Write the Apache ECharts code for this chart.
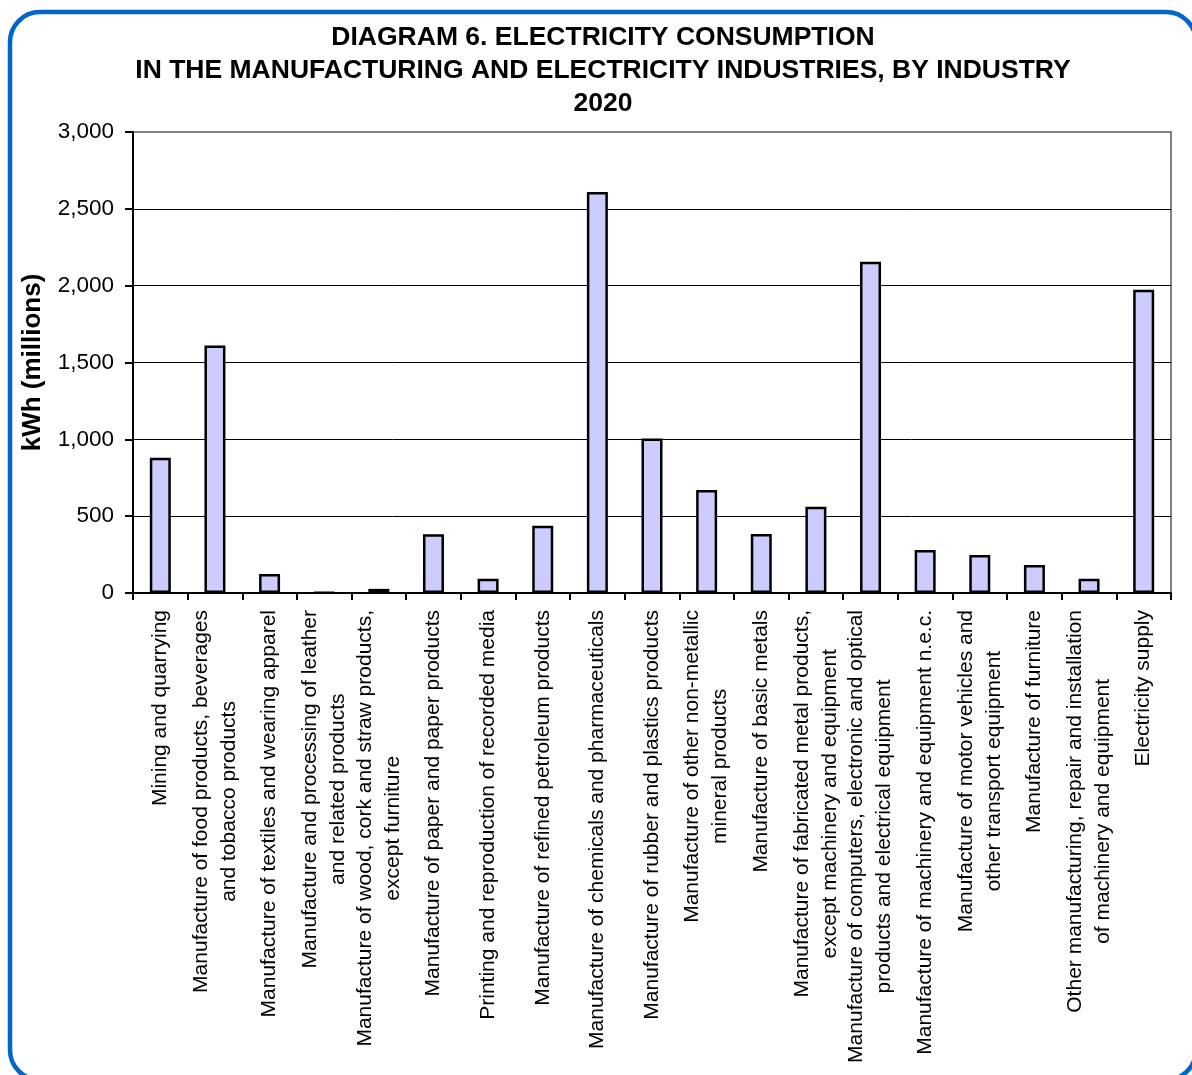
<!DOCTYPE html>
<html>
<head>
<meta charset="utf-8">
<title>Electricity consumption by industry, 2020</title>
<script src="https://cdn.jsdelivr.net/npm/echarts@6/dist/echarts.min.js"></script>
<style>
  html, body { margin: 0; padding: 0; background: #ffffff; }
  #chart { width: 1192px; height: 1075px; }
</style>
</head>
<body>
<div id="chart"></div>
<script>
// Industry categories (line breaks mark where the axis label wraps)
const industries = [
  'Mining and quarrying',
  'Manufacture of food products, beverages\nand tobacco products',
  'Manufacture of textiles and wearing apparel',
  'Manufacture and processing of leather\nand related products',
  'Manufacture of wood, cork and straw products,\nexcept furniture',
  'Manufacture of paper and paper products',
  'Printing and reproduction of recorded media',
  'Manufacture of refined petroleum products',
  'Manufacture of chemicals and pharmaceuticals',
  'Manufacture of rubber and plastics products',
  'Manufacture of other non-metallic\nmineral products',
  'Manufacture of basic metals',
  'Manufacture of fabricated metal products,\nexcept machinery and equipment',
  'Manufacture of computers, electronic and optical\nproducts and electrical equipment',
  'Manufacture of machinery and equipment n.e.c.',
  'Manufacture of motor vehicles and\nother transport equipment',
  'Manufacture of furniture',
  'Other manufacturing, repair and installation\nof machinery and equipment',
  'Electricity supply'
];

// Electricity consumption, kWh (millions)
const consumption = [
  880, 1610, 124, 4, 27, 382, 92, 438, 2609, 1005,
  670, 384, 562, 2156, 280, 247, 182, 93, 1973
];

// Value axis range
const yMin = 0;
const yMax = 3000;
const yStep = 500;

const titleText = 'DIAGRAM 6. ELECTRICITY CONSUMPTION\nIN THE MANUFACTURING AND ELECTRICITY INDUSTRIES, BY INDUSTRY\n2020';
const yAxisTitle = 'kWh (millions)';

const FONT = '"Liberation Sans", Arial, Helvetica, sans-serif';

const chart = echarts.init(document.getElementById('chart'), null, { renderer: 'canvas' });

// Top gridline is drawn grey like the frame, the others black
const splitColors = [];
for (let v = yMin; v <= yMax; v += yStep) {
  splitColors.push(v === yMax ? '#808080' : '#000000');
}

chart.setOption({
  backgroundColor: '#ffffff',
  animation: false,
  title: {
    text: titleText,
    left: 598,
    top: 16,
    textAlign: 'center',
    textStyle: {
      fontFamily: FONT,
      fontWeight: 'bold',
      fontSize: 26.5,
      lineHeight: 33,
      color: '#000000'
    }
  },
  graphic: [{
    type: 'rect',
    shape: { x: 10, y: 12, width: 1186, height: 1068, r: 30 },
    style: { fill: 'none', stroke: '#0066CC', lineWidth: 4.5 },
    silent: true,
    z: 100
  }],
  grid: {
    left: 133,
    right: 21,
    top: 132,
    bottom: 482,
    show: true,
    borderColor: '#808080',
    borderWidth: 2,
    backgroundColor: 'transparent'
  },
  xAxis: {
    type: 'category',
    data: industries,
    boundaryGap: true,
    axisLine: { show: true, lineStyle: { color: '#000000', width: 2 } },
    axisTick: { show: true, length: 7, lineStyle: { color: '#000000', width: 2 } },
    axisLabel: {
      interval: 0,
      rotate: 90,
      margin: 17,
      hideOverlap: false,
      color: '#000000',
      fontFamily: FONT,
      fontSize: 21,
      formatter: function (value) {
        return value.split('\n').map(function (line) { return '{c|' + line + '}'; }).join('\n');
      },
      rich: {
        c: {
          align: 'center',
          fontFamily: FONT,
          fontSize: 21,
          lineHeight: 28,
          color: '#000000'
        }
      }
    },
    splitLine: { show: false }
  },
  yAxis: {
    type: 'value',
    min: yMin,
    max: yMax,
    interval: yStep,
    name: yAxisTitle,
    nameLocation: 'middle',
    nameRotate: 90,
    nameGap: 87,
    nameTextStyle: {
      fontFamily: FONT,
      fontWeight: 'bold',
      fontSize: 26,
      color: '#000000'
    },
    axisLine: { show: true, lineStyle: { color: '#000000', width: 2 } },
    axisTick: { show: true, inside: false, length: 8, lineStyle: { color: '#000000', width: 2 } },
    axisLabel: {
      margin: 19,
      color: '#000000',
      fontFamily: FONT,
      fontSize: 22.5,
      formatter: function (v) { return v.toLocaleString('en-US'); }
    },
    splitLine: {
      show: true,
      lineStyle: { color: splitColors, width: 1 }
    }
  },
  series: [{
    type: 'bar',
    data: consumption,
    barWidth: 21,
    itemStyle: {
      color: '#CCCCFF',
      borderColor: '#000000',
      borderWidth: 2.5
    },
    emphasis: { disabled: true }
  }]
});
</script>
</body>
</html>
